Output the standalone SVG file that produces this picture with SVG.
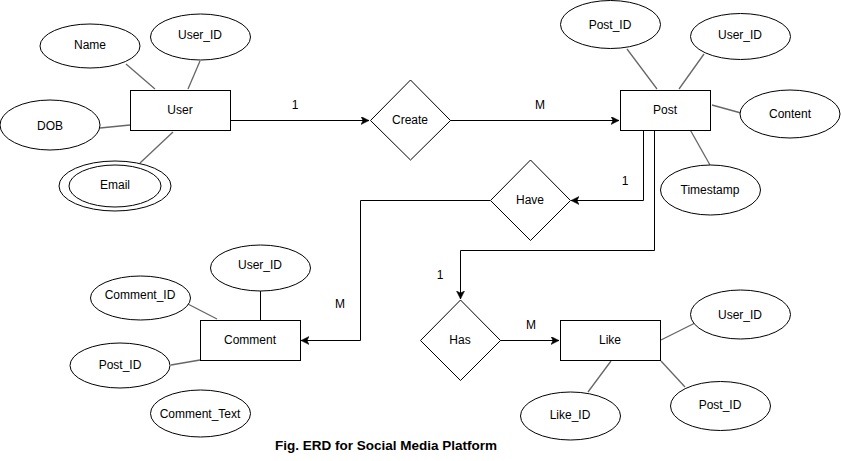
<svg xmlns="http://www.w3.org/2000/svg" width="841" height="461" viewBox="0 0 841 461">
<style>
.ent{fill:#fff;stroke:#000;stroke-width:1}
.att{fill:#fff;stroke:#000;stroke-width:1}
.rel{fill:#fff;stroke:#000;stroke-width:1}
.al{stroke:#666;stroke-width:1.3;fill:none}
.al2{stroke:#000;stroke-width:1;fill:none}
.c{stroke:#000;stroke-width:1;fill:none}
text{font-family:"Liberation Sans",Arial,sans-serif;font-size:12px;fill:#000;text-anchor:middle;dominant-baseline:central}
.title{font-weight:bold;font-size:13.5px}
</style>
<defs>
<marker id="arr" markerUnits="userSpaceOnUse" markerWidth="10" markerHeight="10" refX="8" refY="4" orient="auto">
<path d="M0,0 L8,4 L0,8 L2,4 Z" fill="#000" stroke="#000" stroke-width="0.5"/>
</marker>
</defs>
<rect width="841" height="461" fill="#fff"/>

<g id="connectors">
<line class="al" x1="126" y1="64" x2="155" y2="89"/>
<line class="al" x1="200" y1="61" x2="188" y2="89"/>
<line class="al" x1="100" y1="128" x2="130" y2="125"/>
<line class="al" x1="173" y1="132" x2="140" y2="163"/>
<line class="al" x1="627" y1="49" x2="657" y2="89"/>
<line class="al" x1="704" y1="54" x2="679" y2="89"/>
<line class="al" x1="712" y1="105" x2="741" y2="113"/>
<line class="al" x1="688" y1="126" x2="710" y2="165"/>
<line class="al2" x1="260.5" y1="291" x2="260.5" y2="320"/>
<line class="al" x1="184" y1="302" x2="217" y2="319"/>
<line class="al" x1="171" y1="365" x2="200" y2="360"/>
<line class="al" x1="695" y1="323" x2="661" y2="340"/>
<line class="al" x1="661" y1="361" x2="685" y2="387"/>
<line class="al" x1="611" y1="361" x2="588" y2="392"/>
<path class="c" d="M230,120.5 H369" marker-end="url(#arr)"/>
<path class="c" d="M450,120.5 H619" marker-end="url(#arr)"/>
<path class="c" d="M643.5,130 V200.5 H571" marker-end="url(#arr)"/>
<path class="c" d="M490,200.5 H360.5 V340.5 H301" marker-end="url(#arr)"/>
<path class="c" d="M654.5,130 V250.5 H460.5 V299" marker-end="url(#arr)"/>
<path class="c" d="M500,340.5 H559" marker-end="url(#arr)"/>
<text x="295" y="105">1</text>
<text x="540" y="105">M</text>
<text x="625" y="181">1</text>
<text x="340" y="304">M</text>
<text x="440" y="275">1</text>
<text x="531" y="325">M</text>
</g>

<g id="user">
<rect class="ent" x="130.5" y="90.5" width="100" height="40"/>
<text x="180" y="110">User</text>
</g>
<g id="user-name">
<ellipse class="att" cx="90" cy="46" rx="50" ry="22"/>
<text x="90" y="45">Name</text>
</g>
<g id="user-userid">
<ellipse class="att" cx="200.5" cy="37" rx="50" ry="23"/>
<text x="200" y="35">User_ID</text>
</g>
<g id="user-dob">
<ellipse class="att" cx="50" cy="125" rx="50" ry="25"/>
<text x="50" y="126">DOB</text>
</g>
<g id="user-email">
<ellipse class="att" cx="115" cy="186" rx="56" ry="25"/>
<ellipse class="att" cx="115" cy="186" rx="46" ry="21"/>
<text x="115" y="185">Email</text>
</g>

<g id="create">
<polygon class="rel" points="410.5,80 450.5,120.5 410.5,160 370.5,120.5"/>
<text x="410" y="120">Create</text>
</g>

<g id="post">
<rect class="ent" x="620.5" y="90.5" width="90" height="40"/>
<text x="665" y="110">Post</text>
</g>
<g id="post-postid">
<ellipse class="att" cx="610.5" cy="24.5" rx="50" ry="24"/>
<text x="610" y="25">Post_ID</text>
</g>
<g id="post-userid">
<ellipse class="att" cx="740.5" cy="36.5" rx="50" ry="23"/>
<text x="740" y="35">User_ID</text>
</g>
<g id="post-content">
<ellipse class="att" cx="790" cy="114" rx="50" ry="24"/>
<text x="790" y="114">Content</text>
</g>
<g id="post-timestamp">
<ellipse class="att" cx="710.5" cy="190" rx="50" ry="25"/>
<text x="710" y="190">Timestamp</text>
</g>

<g id="have">
<polygon class="rel" points="530.5,160 570.5,200.5 530.5,240.5 490.5,200.5"/>
<text x="530" y="200">Have</text>
</g>

<g id="comment">
<rect class="ent" x="200.5" y="320.5" width="100" height="40"/>
<text x="250" y="340">Comment</text>
</g>
<g id="comment-userid">
<ellipse class="att" cx="260.5" cy="268" rx="50" ry="23"/>
<text x="260" y="265">User_ID</text>
</g>
<g id="comment-commentid">
<ellipse class="att" cx="140.5" cy="298" rx="50" ry="22"/>
<text x="140" y="295">Comment_ID</text>
</g>
<g id="comment-postid">
<ellipse class="att" cx="120" cy="365.5" rx="50" ry="22.5"/>
<text x="120" y="365">Post_ID</text>
</g>
<g id="comment-text">
<ellipse class="att" cx="200.5" cy="413.5" rx="50" ry="23.5"/>
<text x="200" y="414">Comment_Text</text>
</g>

<g id="has">
<polygon class="rel" points="460.5,300 500.5,340.5 460.5,380.5 420.5,340.5"/>
<text x="460" y="340">Has</text>
</g>

<g id="like">
<rect class="ent" x="560.5" y="320.5" width="100" height="40"/>
<text x="610" y="340">Like</text>
</g>
<g id="like-userid">
<ellipse class="att" cx="740.5" cy="314.5" rx="50" ry="24.5"/>
<text x="740" y="315">User_ID</text>
</g>
<g id="like-postid">
<ellipse class="att" cx="720.5" cy="406" rx="50" ry="24.5"/>
<text x="720" y="405">Post_ID</text>
</g>
<g id="like-likeid">
<ellipse class="att" cx="570.5" cy="416" rx="50" ry="24"/>
<text x="570" y="415">Like_ID</text>
</g>

<text class="title" x="386" y="445">Fig. ERD for Social Media Platform</text>
</svg>
